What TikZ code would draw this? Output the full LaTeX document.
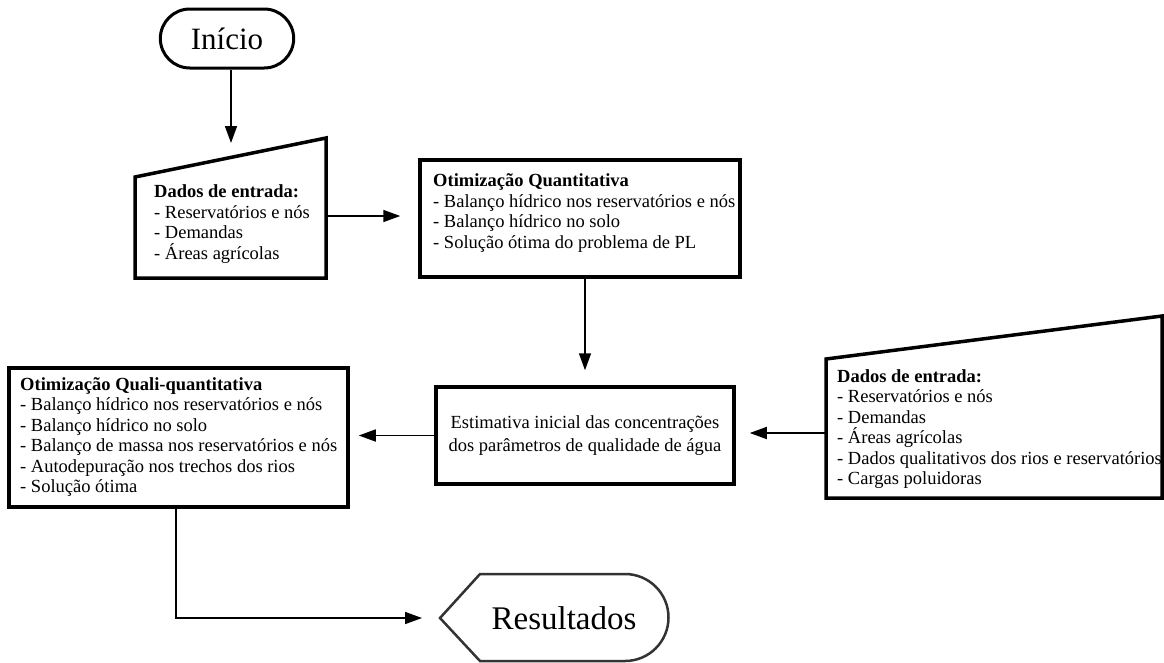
\documentclass[tikz,border=0pt]{standalone}
\usepackage{fontspec}
\setmainfont{Liberation Serif}
\usetikzlibrary{arrows.meta,shapes.misc}

\tikzset{
  box/.style={draw, line width=3.5pt, inner sep=0pt},
  txt/.style={align=left, inner sep=0pt, anchor=west, font=\fontsize{18.5}{20.5}\selectfont},
  arrow/.style={line width=1.6pt, -{Triangle[length=17pt,width=12pt]}},
}

\begin{document}
\begin{tikzpicture}[x=1pt,y=-1pt]
	\useasboundingbox (0,0) rectangle (1164,662);
	% start
	\node[draw, rounded rectangle, line width=3pt, minimum width=140pt, minimum height=59pt,
	  font=\fontsize{31}{36}\selectfont] (inicio) at (227,38.5) {Início};
	% input 1
	\draw[box] (135,278) -- (135,177) -- (326,138) -- (326,278) -- cycle;
	\node[txt] (dados1) at (154,224) {\textbf{Dados de entrada:}\\- Reservatórios e nós\\- Demandas\\- Áreas agrícolas};
	\coordinate (in1top) at (231,158);
	\coordinate (in1e) at (326,216);
	% quantitativa
	\node[box, minimum width=320pt, minimum height=117pt] (quant) at (580,218.5) {};
	\node[txt] (quanttxt) at (433,213)
	  {\textbf{Otimização Quantitativa}\\- Balanço hídrico nos reservatórios e nós\\- Balanço hídrico no solo\\- Solução ótima do problema de PL};
	% estimativa
	\node[box, align=center, minimum width=298pt, minimum height=97pt,
	  font=\fontsize{18.5}{23}\selectfont] (estim) at (585,435.5)
	  {Estimativa inicial das concentrações\\dos parâmetros de qualidade de água};
	% quali-quantitativa
	\node[box, minimum width=339pt, minimum height=139pt] (quali) at (178.5,437.5) {};
	\node[txt] (qualitxt) at (20,437)
	  {\textbf{Otimização Quali-quantitativa}\\- Balanço hídrico nos reservatórios e nós\\- Balanço hídrico no solo\\- Balanço de massa nos reservatórios e nós\\- Autodepuração nos trechos dos rios\\- Solução ótima};
	% input 2
	\draw[box] (826,498) -- (826,359) -- (1162,316) -- (1162,498) -- cycle;
	\node[txt] (dados2) at (837,429) {\textbf{Dados de entrada:}\\- Reservatórios e nós\\- Demandas\\- Áreas agrícolas\\- Dados qualitativos dos rios e reservatórios\\- Cargas poluidoras};
	\coordinate (in2w) at (826,433);
	% results
	\draw[line width=2.5pt, black!80] (440,618) -- (480,574) -- (625,574)
	  arc[start angle=-90, end angle=90, radius=43.5] -- (480,661) -- cycle;
	\node[font=\fontsize{33}{38}\selectfont, inner sep=0pt] (res) at (564,618) {Resultados};
	\coordinate (resw) at (440,618);
	% arrows
	\draw[arrow, shorten >=15pt] ([xshift=4pt]inicio.south) -- (in1top);
	\draw[arrow, shorten >=18pt] (in1e) -- (in1e -| quant.west);
	\draw[arrow, shorten >=15pt] (estim.north |- quant.south) -- (estim.north);
	\draw[arrow, shorten >=14pt] (in2w) -- (in2w -| estim.east);
	\draw[arrow, shorten >=9pt] (estim.west) -- (estim.west -| quali.east);
	\draw[arrow, shorten >=18pt] ([xshift=-2.5pt]quali.south) |- (resw);
\end{tikzpicture}
\end{document}
